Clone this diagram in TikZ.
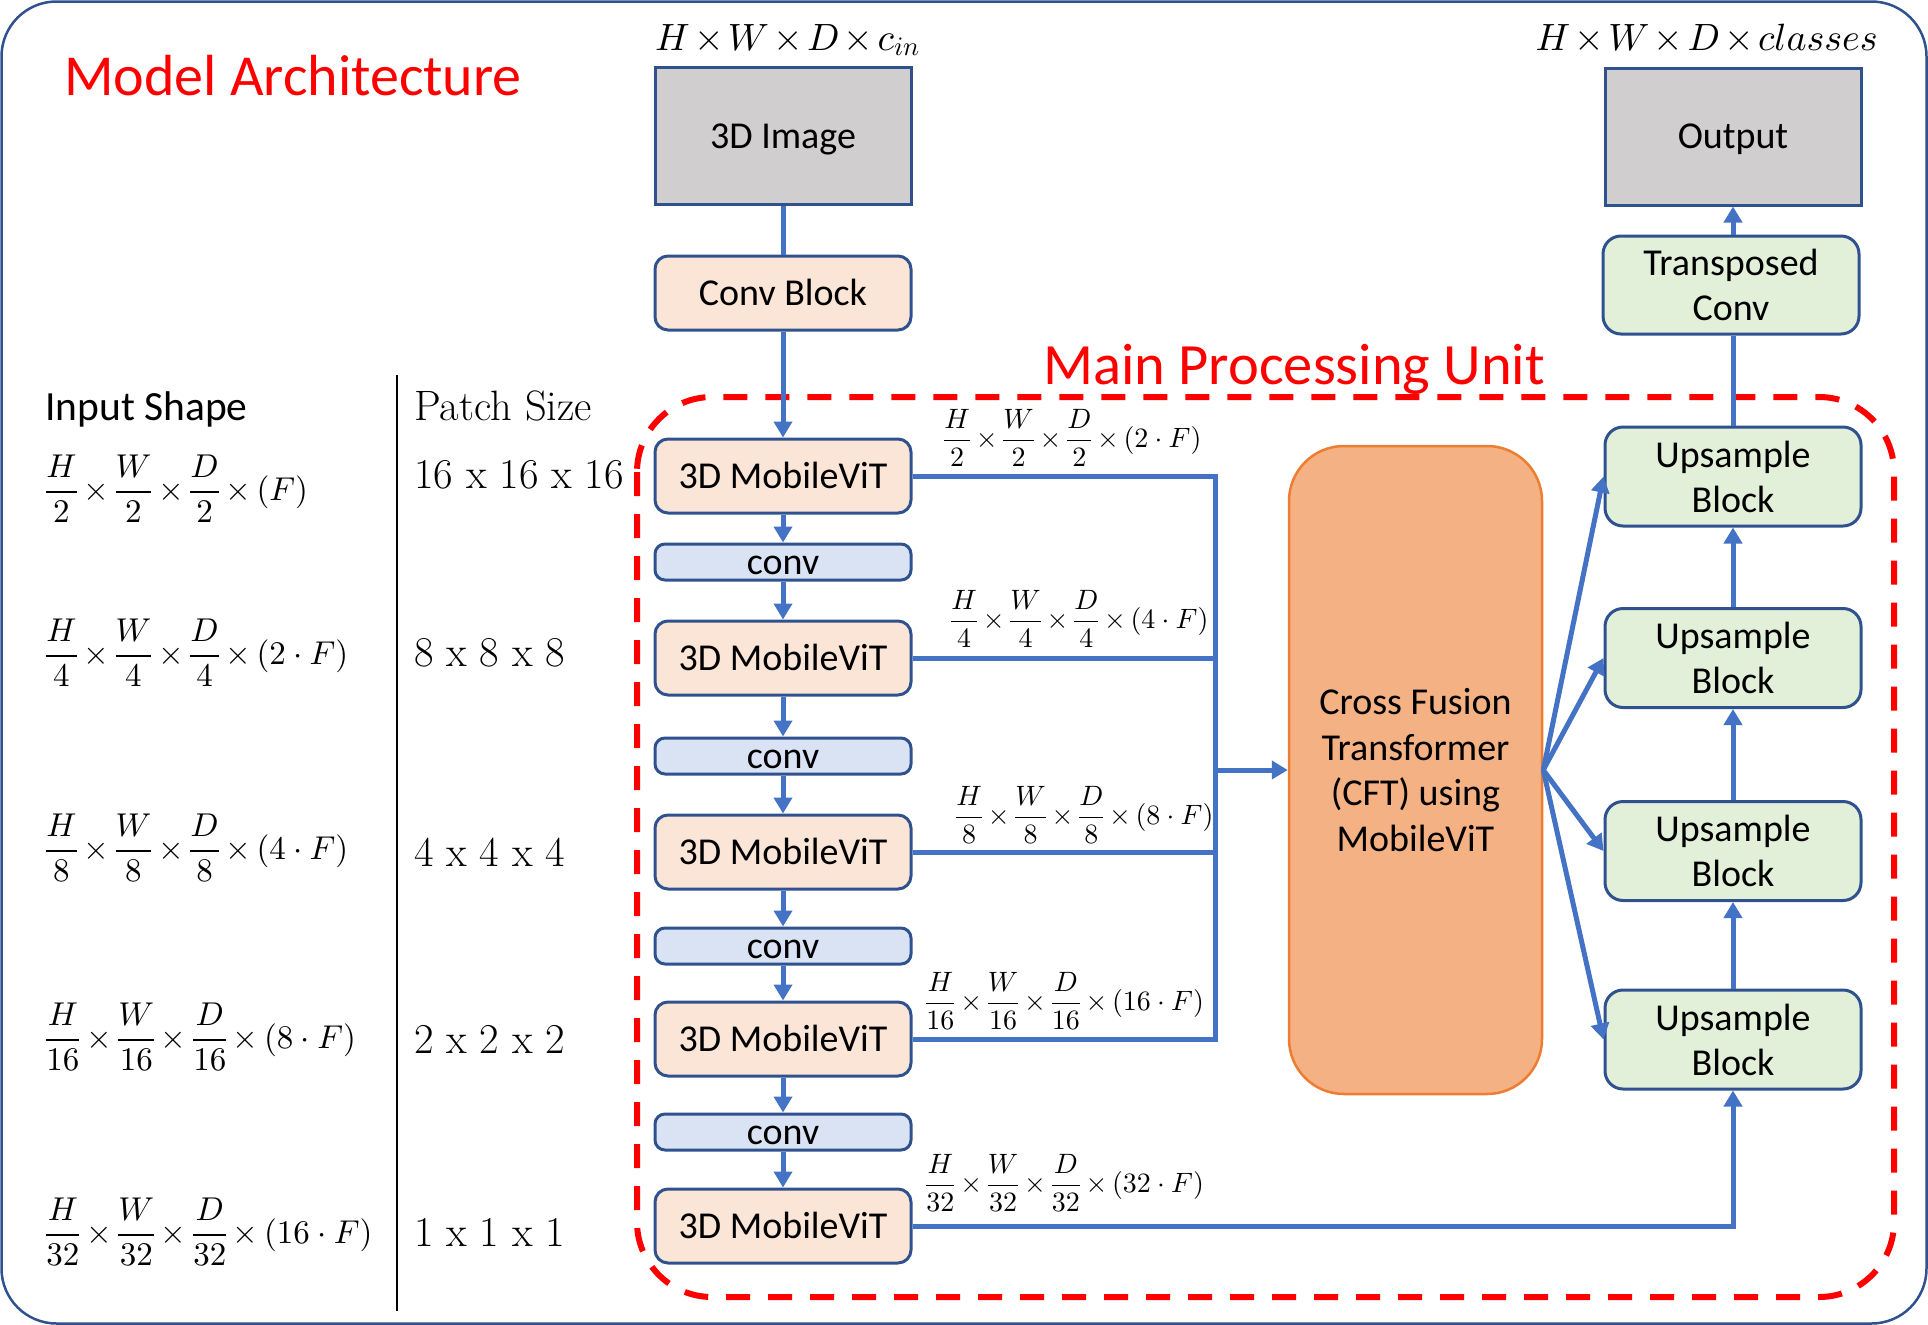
\documentclass[tikz,border=0pt]{standalone}
\usepackage{fontspec}
\newfontfamily\calib{Carlito}
\DeclareFontShape{OML}{cmm}{m}{it}{<->cmmi10}{}
\DeclareFontShape{OMS}{cmsy}{m}{n}{<->cmsy10}{}
\DeclareFontShape{OMX}{cmex}{m}{n}{<->cmex10}{}
\DeclareFontShape{OT1}{cmr}{m}{n}{<->cmr10}{}
\newcommand\df[2]{{\displaystyle\frac{#1}{#2}}}
\newcommand\tm{\mskip3mu\mathord{\times}\mskip3mu}
\newcommand\tmb{\mskip2mu\mathord{\times}\mskip2mu}
\usetikzlibrary{arrows.meta}
\definecolor{bord}{HTML}{2F528F}
\definecolor{arr}{HTML}{4472C4}
\definecolor{grayf}{HTML}{D0CECE}
\definecolor{peach}{HTML}{FBE5D6}
\definecolor{bluef}{HTML}{DAE3F3}
\definecolor{greenf}{HTML}{E2F0D9}
\definecolor{cftf}{HTML}{F4B183}
\definecolor{cftd}{HTML}{ED7D31}
\begin{document}
\begin{tikzpicture}[x=1pt,y=-1pt,
  basebox/.style={draw=bord, line width=3pt, inner sep=0pt, align=center,
    font=\calib\fontsize{38}{45}\selectfont, minimum width=256pt},
  oneline/.style={text height=26pt, text depth=2pt},
  graybox/.style={basebox, oneline, fill=grayf, minimum height=137pt},
  peachbox/.style={basebox, oneline, fill=peach, rounded corners=13pt, minimum height=74pt},
  convbox/.style={basebox, oneline, fill=bluef, rounded corners=10pt, minimum height=36pt},
  upbox/.style={basebox, fill=greenf, rounded corners=18pt, minimum height=99pt},
  cftbox/.style={draw=cftd, fill=cftf, line width=2.5pt, rounded corners=55pt, inner sep=0pt,
    align=center, font=\calib\fontsize{38}{45.5}\selectfont, minimum width=253pt, minimum height=648pt},
  conn/.style={draw=arr, line width=5pt},
  arrow/.style={conn, -{Triangle[length=16pt,width=18pt]}},
  lbl/.style={anchor=west, inner sep=0pt, font=\fontsize{28}{32}\selectfont},
  leftm/.style={anchor=west, inner sep=0pt, font=\fontsize{33}{38}\selectfont},
  patch/.style={anchor=west, inner sep=0pt, font=\fontsize{42.5}{48}\selectfont},
]
\useasboundingbox (0,0) rectangle (1928,1325);
% outer frame
\draw[bord, line width=2.5pt, rounded corners=55pt] (1.5,1.5) rectangle (1926.5,1323.5);

% titles
\node[anchor=base west, inner sep=0pt, text=red, font=\calib\fontsize{58}{60}\selectfont] (title) at (64,95) {Model Architecture};
\node[anchor=base west, inner sep=0pt, text=red, font=\calib\fontsize{58.5}{60}\selectfont] (mpu) at (1043,384) {Main Processing Unit};

% dashed unit
\draw[red, line width=6pt, dash pattern=on 24pt off 18pt, rounded corners=75pt] (637,397) rectangle (1894,1297);

% left table
\node[anchor=base west, inner sep=0pt, font=\calib\fontsize{41.5}{44}\selectfont] (ish) at (45,420) {Input Shape};
\node[anchor=base west, inner sep=0pt, font=\fontsize{42.5}{48}\selectfont] (psz) at (414,420) {Patch Size};
\draw[black, line width=2.5pt] (397,375) -- (397,1311);

\node[leftm] (r1) at (45,489) {$\df{H}{2}\tm\df{W}{2}\tm\df{D}{2}\tm(F)$};
\node[leftm] (r2) at (45,653) {$\df{H}{4}\tm\df{W}{4}\tm\df{D}{4}\tm(2\cdot F)$};
\node[leftm] (r3) at (45,848) {$\df{H}{8}\tm\df{W}{8}\tm\df{D}{8}\tm(4\cdot F)$};
\node[leftm] (r4) at (45,1037) {$\df{H}{16}\tm\df{W}{16}\tm\df{D}{16}\tm(8\cdot F)$};
\node[leftm] (r5) at (45,1232) {$\df{H}{32}\tm\df{W}{32}\tm\df{D}{32}\tm(16\cdot F)$};

\node[patch] (p1) at (414,475) {16 x 16 x 16};
\node[patch] (p2) at (414,653) {8 x 8 x 8};
\node[patch] (p3) at (414,852) {4 x 4 x 4};
\node[patch] (p4) at (414,1039) {2 x 2 x 2};
\node[patch] (p5) at (414,1232) {1 x 1 x 1};

% encoder column
\node[anchor=base west, inner sep=0pt, font=\fontsize{38}{42}\selectfont] (inlbl) at (655,50) {$H\tmb W\tmb D\tmb c_{in}$};
\node[graybox] (img) at (783,136) {3D Image};
\node[peachbox] (cb) at (783,293) {Conv Block};
\node[peachbox] (mv1) at (783,476) {3D MobileViT};
\node[convbox] (cv1) at (783,562) {conv};
\node[peachbox] (mv2) at (783,658) {3D MobileViT};
\node[convbox] (cv2) at (783,756) {conv};
\node[peachbox] (mv3) at (783,852) {3D MobileViT};
\node[convbox] (cv3) at (783,946) {conv};
\node[peachbox] (mv4) at (783,1039) {3D MobileViT};
\node[convbox] (cv4) at (783,1132) {conv};
\node[peachbox] (mv5) at (783,1226) {3D MobileViT};

\draw[conn] (img) -- (cb);
\draw[arrow] (cb) -- (mv1);
\draw[arrow] (mv1) -- (cv1);
\draw[arrow] (cv1) -- (mv2);
\draw[arrow] (mv2) -- (cv2);
\draw[arrow] (cv2) -- (mv3);
\draw[arrow] (mv3) -- (cv3);
\draw[arrow] (cv3) -- (mv4);
\draw[arrow] (mv4) -- (cv4);
\draw[arrow] (cv4) -- (mv5);

% skip labels
\node[lbl] (l1) at (943,438) {$\df{H}{2}\tm\df{W}{2}\tm\df{D}{2}\tm(2\cdot F)$};
\node[lbl] (l2) at (950,619) {$\df{H}{4}\tm\df{W}{4}\tm\df{D}{4}\tm(4\cdot F)$};
\node[lbl] (l3) at (955,815) {$\df{H}{8}\tm\df{W}{8}\tm\df{D}{8}\tm(8\cdot F)$};
\node[lbl] (l4) at (925,1001) {$\df{H}{16}\tm\df{W}{16}\tm\df{D}{16}\tm(16\cdot F)$};
\node[lbl] (l5) at (925,1183) {$\df{H}{32}\tm\df{W}{32}\tm\df{D}{32}\tm(32\cdot F)$};

% CFT
\node[cftbox] (cft) at (1415.5,770) {Cross Fusion\\Transformer\\(CFT) using\\MobileViT};

% bus
\coordinate (bus) at (1215,0);
\draw[conn] (mv1.east) -- (mv1.east -| bus) -- (mv4.east -| bus) -- (mv4.east);
\draw[conn] (mv2.east) -- (mv2.east -| bus);
\draw[conn] (mv3.east) -- (mv3.east -| bus);
\draw[arrow] (cft.west -| bus) -- (cft.west);

% decoder column
\node[anchor=base east, inner sep=0pt, font=\fontsize{38}{42}\selectfont] (outlbl) at (1878,50) {$H\tmb W\tmb D\tmb classes$};
\node[graybox] (out) at (1733,136.5) {Output};
\node[upbox, minimum height=98pt] (tc) at (1731,285) {Transposed\\Conv};
\node[upbox] (up1) at (1733,476.5) {Upsample\\Block};
\node[upbox] (up2) at (1733,658) {Upsample\\Block};
\node[upbox] (up3) at (1733,851) {Upsample\\Block};
\node[upbox] (up4) at (1733,1039.5) {Upsample\\Block};

\draw[arrow] (tc.north -| out) -- (out);
\draw[conn] (up1) -- (up1.north |- tc.south);
\draw[arrow] (up2) -- (up1);
\draw[arrow] (up3) -- (up2);
\draw[arrow] (up4) -- (up3);
\draw[arrow] (mv5.east) -- (mv5.east -| up4.south) -- (up4.south);

\draw[arrow] (cft.east) -- (up1.west);
\draw[arrow] (cft.east) -- (up2.west);
\draw[arrow] (cft.east) -- (up3.west);
\draw[arrow] (cft.east) -- (up4.west);
\end{tikzpicture}
\end{document}
